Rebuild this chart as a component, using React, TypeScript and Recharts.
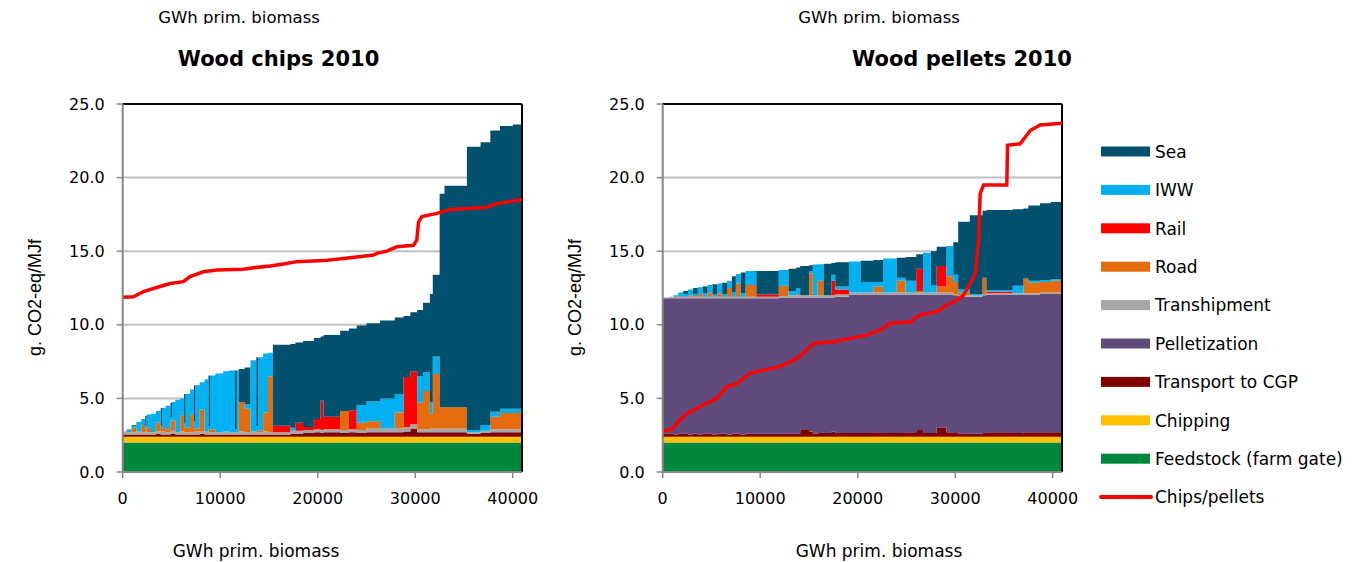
import React from "react";
import { ComposedChart, Area, Line, XAxis, YAxis, CartesianGrid, ReferenceLine } from "recharts";

// ---------- Series definitions (stack order bottom -> top) ----------
const SERIES = [
  { key: "feed", name: "Feedstock (farm gate)", color: "#00873E" },
  { key: "chip", name: "Chipping", color: "#FFC000" },
  { key: "tcgp", name: "Transport to CGP", color: "#800000" },
  { key: "pel", name: "Pelletization", color: "#604A7B" },
  { key: "trans", name: "Transhipment", color: "#A6A6A6" },
  { key: "road", name: "Road", color: "#E46C0A" },
  { key: "rail", name: "Rail", color: "#FF0000" },
  { key: "iww", name: "IWW", color: "#00B0F0" },
  { key: "sea", name: "Sea", color: "#01506E" },
];
const LINE_NAME = "Chips/pellets";
const LINE_COLOR = "#FF0000";

const X_TICKS = [0, 10000, 20000, 30000, 40000];
const Y_TICKS = [0, 5, 10, 15, 20, 25];
const X_MAX = 40950;

// ---------- Wood chips 2010 ----------
const chipsX = [0, 400, 900, 1400, 1900, 2300, 2450, 2900, 3400, 3900, 4050, 4400, 4900, 5050, 5400, 5900, 6300, 6450, 6900, 7300, 7450, 7900, 8400, 8800, 8950, 9500, 10300, 10900, 11500, 11700, 11900, 12500, 13100, 13700, 13900, 14400, 14900,
  15400, 17200, 17700, 18500, 19600, 20300, 20600, 22300, 23200, 24000, 25000, 26400, 27900, 28800, 29500, 30200, 30800, 31500, 31800, 32500, 33000, 35300, 36700, 37700, 38700, 40000, 40950];
const chipsFeed = [2.0, 2.0, 2.0, 2.0, 2.0, 2.0, 2.0, 2.0, 2.0, 2.0, 2.0, 2.0, 2.0, 2.0, 2.0, 2.0, 2.0, 2.0, 2.0, 2.0, 2.0, 2.0, 2.0, 2.0, 2.0, 2.0, 2.0, 2.0, 2.0, 2.0, 2.0, 2.0, 2.0, 2.0, 2.0, 2.0, 2.0,
  2.0, 2.0, 2.0, 2.0, 2.0, 2.0, 2.0, 2.0, 2.0, 2.0, 2.0, 2.0, 2.0, 2.0, 2.0, 2.0, 2.0, 2.0, 2.0, 2.0, 2.0, 2.0, 2.0, 2.0, 2.0, 2.0, 2.0];
const chipsChip = [0.4, 0.4, 0.4, 0.4, 0.4, 0.4, 0.4, 0.4, 0.4, 0.4, 0.4, 0.4, 0.4, 0.4, 0.4, 0.4, 0.4, 0.4, 0.4, 0.4, 0.4, 0.4, 0.4, 0.4, 0.4, 0.4, 0.4, 0.4, 0.4, 0.4, 0.4, 0.4, 0.4, 0.4, 0.4, 0.4, 0.4,
  0.4, 0.4, 0.4, 0.4, 0.4, 0.4, 0.4, 0.4, 0.4, 0.4, 0.4, 0.4, 0.4, 0.4, 0.4, 0.4, 0.4, 0.4, 0.4, 0.4, 0.4, 0.4, 0.4, 0.4, 0.4, 0.4, 0.4];
const chipsTcgp = [0.15, 0.15, 0.15, 0.15, 0.15, 0.15, 0.15, 0.15, 0.2, 0.15, 0.15, 0.15, 0.2, 0.2, 0.15, 0.15, 0.15, 0.15, 0.15, 0.15, 0.15, 0.2, 0.15, 0.15, 0.15, 0.15, 0.15, 0.15, 0.15, 0.15, 0.15, 0.15, 0.15, 0.15, 0.15, 0.15, 0.15,
  0.15, 0.2, 0.2, 0.25, 0.3, 0.25, 0.3, 0.25, 0.3, 0.25, 0.3, 0.3, 0.3, 0.35, 0.55, 0.3, 0.3, 0.3, 0.3, 0.3, 0.3, 0.2, 0.25, 0.3, 0.3, 0.3, 0.3];
const chipsPel = [0, 0, 0, 0, 0, 0, 0, 0, 0, 0, 0, 0, 0, 0, 0, 0, 0, 0, 0, 0, 0, 0, 0, 0, 0, 0, 0, 0, 0, 0, 0, 0, 0, 0, 0, 0, 0,
  0, 0, 0, 0, 0, 0, 0, 0, 0, 0, 0, 0, 0, 0, 0, 0, 0, 0, 0, 0, 0, 0, 0, 0, 0, 0, 0];
const chipsTrans = [0.15, 0.15, 0.15, 0.2, 0.15, 0.2, 0.15, 0.15, 0.15, 0.2, 0.2, 0.15, 0.2, 0.2, 0.15, 0.2, 0.15, 0.15, 0.15, 0.2, 0.2, 0.15, 0.2, 0.15, 0.15, 0.15, 0.2, 0.15, 0.15, 0.15, 0.2, 0.15, 0.2, 0.15, 0.15, 0.2, 0.15,
  0.15, 0.2, 0.2, 0.2, 0.2, 0.2, 0.2, 0.2, 0.2, 0.2, 0.25, 0.25, 0.25, 0.3, 0.3, 0.2, 0.2, 0.25, 0.25, 0.25, 0.25, 0.1, 0.15, 0.2, 0.2, 0.2, 0.2];
const chipsRoad = [0.05, 0, 0.3, 0, 0.5, 0.1, 0.3, 0, 0.6, 0.1, 0.3, 0.2, 0.7, 0.7, 0, 1.1, 0.3, 0.3, 1.2, 0.2, 0.2, 1.5, 0, 0.2, 0.2, 0, 0, 0, 0, 0, 2.0, 1.6, 0, 0.1, 0.1, 1.3, 3.8,
  0, 0, 0, 0, 0, 0, 0, 1.3, 0, 0.5, 0.5, 0, 1.1, 0, 0, 1.8, 2.6, 1.0, 3.7, 1.45, 1.45, 0, 0, 0.85, 1.1, 1.1, 1.1];
const chipsRail = [0, 0, 0, 0, 0, 0, 0, 0, 0, 0, 0, 0, 0, 0, 0, 0, 0, 0, 0, 0, 0, 0, 0, 0, 0, 0, 0, 0, 0, 0, 0, 0, 0, 0, 0, 0, 0,
  0.45, 0, 0.55, 0.2, 0.7, 2.0, 0.85, 0, 1.3, 0, 0, 0, 0, 3.4, 3.6, 0, 0, 0, 0, 0, 0, 0, 0, 0, 0, 0, 0];
const chipsIww = [0, 0.2, 0.15, 0.65, 0.4, 0.3, 0.9, 1.25, 0.8, 0.3, 1.3, 1.6, 0.2, 1.25, 2.2, 1.15, 0.3, 2.3, 1.7, 0.5, 2.95, 1.85, 3.55, 0.2, 3.65, 4.0, 4.1, 4.2, 0.2, 4.2, 0, 0.3, 4.85, 0.3, 5.0, 4.0, 1.6,
  0, 0.2, 0, 0, 0, 0, 0, 0, 0, 1.2, 1.35, 2.05, 1.25, 0, 0, 1.8, 1.3, 0.8, 1.2, 0, 0, 0.15, 0.4, 0.35, 0.3, 0.3, 0.3];
const chipsSea = [0, 0, 0.05, 0, 0, 0.65, 0, 0, 0, 1.2, 0, 0, 1.0, 0, 0, 0, 2.0, 0, 0, 2.45, 0, 0, 0, 3.45, 0, 0, 0, 0, 4.0, 0, 2.25, 2.5, 0, 4.7, 0, 0, 0,
  5.5, 5.7, 5.45, 5.85, 5.5, 4.35, 5.55, 5.45, 5.55, 5.4, 5.3, 5.3, 5.2, 4.15, 4.0, 4.5, 4.7, 7.35, 5.55, 14.5, 15.05, 19.25, 19.2, 19.1, 19.2, 19.3, 19.3];
// red line in the chips panel (pellet chain cost curve)
const chipsLineX = [0, 1090, 2120, 3830, 4860, 6220, 6910, 8280, 9640, 12380, 13410, 15120, 16480, 17850, 20590, 22640, 25720, 26060, 27090, 28110, 29820, 30160, 30340, 30680, 32220, 33580, 37350, 38030, 40950];
const chipsLineY = [11.87, 11.9, 12.25, 12.6, 12.8, 12.93, 13.27, 13.6, 13.72, 13.77, 13.88, 14.0, 14.13, 14.29, 14.36, 14.5, 14.74, 14.85, 15.0, 15.3, 15.4, 15.76, 17.0, 17.35, 17.57, 17.84, 17.98, 18.18, 18.52];

// ---------- Wood pellets 2010 ----------
const pelX = [0, 700, 1100, 1600, 2100, 2600, 3100, 3600, 4100, 4600, 5100, 5600, 6100, 6600, 7100, 7500, 8000, 8500, 9600, 11900, 12900, 13700, 14100, 15000, 15400, 15900, 16500, 17300, 17700, 19100, 20300, 21600, 22600, 24000, 24900, 26000, 26700, 27500, 28100, 29100, 29800, 30300, 31500, 32800, 33200, 35900, 37000, 37500, 38700, 39800, 40950];
const pelFeed = [2.0, 2.0, 2.0, 2.0, 2.0, 2.0, 2.0, 2.0, 2.0, 2.0, 2.0, 2.0, 2.0, 2.0, 2.0, 2.0, 2.0, 2.0, 2.0, 2.0, 2.0, 2.0, 2.0, 2.0, 2.0, 2.0, 2.0, 2.0, 2.0, 2.0, 2.0, 2.0, 2.0, 2.0, 2.0, 2.0, 2.0, 2.0, 2.0, 2.0, 2.0, 2.0, 2.0, 2.0, 2.0, 2.0, 2.0, 2.0, 2.0, 2.0, 2.0];
const pelChip = [0.4, 0.4, 0.4, 0.4, 0.4, 0.4, 0.4, 0.4, 0.4, 0.4, 0.4, 0.4, 0.4, 0.4, 0.4, 0.4, 0.4, 0.4, 0.4, 0.4, 0.4, 0.4, 0.4, 0.4, 0.4, 0.4, 0.4, 0.4, 0.4, 0.4, 0.4, 0.4, 0.4, 0.4, 0.4, 0.4, 0.4, 0.4, 0.4, 0.4, 0.4, 0.4, 0.4, 0.4, 0.4, 0.4, 0.4, 0.4, 0.4, 0.4, 0.4];
const pelTcgp = [0.2, 0.2, 0.15, 0.2, 0.2, 0.15, 0.2, 0.15, 0.2, 0.2, 0.15, 0.2, 0.2, 0.15, 0.2, 0.2, 0.15, 0.2, 0.2, 0.2, 0.2, 0.2, 0.5, 0.35, 0.2, 0.3, 0.25, 0.35, 0.25, 0.25, 0.25, 0.3, 0.25, 0.25, 0.3, 0.45, 0.25, 0.25, 0.6, 0.3, 0.3, 0.2, 0.2, 0.25, 0.3, 0.25, 0.3, 0.3, 0.3, 0.3, 0.3];
const pelPel = [9.2, 9.2, 9.25, 9.2, 9.2, 9.25, 9.2, 9.25, 9.2, 9.2, 9.25, 9.2, 9.2, 9.25, 9.2, 9.2, 9.25, 9.2, 9.2, 9.25, 9.25, 9.25, 8.95, 9.1, 9.25, 9.15, 9.2, 9.1, 9.25, 9.4, 9.4, 9.35, 9.4, 9.4, 9.35, 9.2, 9.4, 9.4, 9.05, 9.35, 9.3, 9.3, 9.3, 9.35, 9.35, 9.4, 9.35, 9.35, 9.4, 9.4, 9.4];
const pelTrans = [0.05, 0.1, 0.1, 0.1, 0.1, 0.1, 0.15, 0.1, 0.1, 0.1, 0.1, 0.1, 0.1, 0.1, 0.1, 0.1, 0.1, 0.1, 0.1, 0.1, 0.15, 0.15, 0.15, 0.15, 0.15, 0.15, 0.15, 0.15, 0.15, 0.15, 0.15, 0.15, 0.15, 0.15, 0.15, 0.15, 0.15, 0.15, 0.15, 0.15, 0.1, 0.1, 0.1, 0.1, 0.1, 0.1, 0.1, 0.1, 0.1, 0.1, 0.1];
const pelRoad = [0, 0, 0, 0.05, 0, 0.1, 0, 0.2, 0, 0.3, 0, 0.25, 0, 0.6, 0, 0.9, 0, 0.8, 0, 0.7, 0, 0.1, 0, 1.5, 0, 1.0, 0, 0, 0, 0, 0, 0.4, 0, 0.8, 0, 0.1, 0, 0, 0.4, 1.1, 0.8, 0.2, 0, 1.1, 0, 0, 1.0, 0.7, 0.7, 0.8, 0.8];
const pelRail = [0, 0, 0, 0, 0, 0, 0, 0, 0, 0, 0, 0, 0, 0, 0, 0, 0, 0, 0.15, 0, 0, 0, 0, 0, 0, 0, 0, 1.0, 0.35, 0, 0, 0, 0, 0, 0, 1.5, 0, 0, 1.4, 0, 0, 0, 0, 0, 0.1, 0, 0, 0, 0, 0, 0];
const pelIww = [0, 0, 0.1, 0.25, 0.2, 0.4, 0.15, 0.45, 0.25, 0.5, 0.15, 0.65, 0.2, 0.5, 0.3, 0.65, 0.25, 0.95, 0, 1.07, 0.3, 0.4, 0, 0.15, 2.1, 1.12, 0, 0.4, 0.2, 2.1, 0.7, 0.3, 2.3, 0.2, 0.8, 0, 2.7, 0.5, 0, 2.05, 0.5, 0.2, 0.1, 0, 0.1, 0.5, 0, 0.15, 0.15, 0.1, 0.1];
const pelSea = [0, 0, 0, 0, 0.2, 0, 0.4, 0, 0.45, 0, 0.7, 0, 0.75, 0, 1.1, 0, 1.4, 0, 1.6, 0, 1.5, 1.4, 2.0, 0.4, 0, 0, 2.15, 0.8, 1.65, 0, 1.45, 1.5, 0, 1.35, 1.6, 1.0, 0, 2.3, 1.3, 0, 2.2, 4.6, 5.35, 4.55, 5.45, 5.2, 4.75, 5.1, 5.2, 5.25, 5.25];
// red line in the pellets panel (chip chain cost curve)
const pelLineX = [0, 1090, 1440, 2120, 2800, 4170, 5540, 6570, 7590, 8960, 10330, 12040, 13410, 14430, 15460, 17510, 19220, 20930, 22300, 23320, 25380, 26400, 28110, 29140, 30160, 30850, 31530, 32050, 32390, 32560, 32900, 35290, 35360, 36660, 37690, 38710, 40950];
const pelLineY = [2.74, 2.97, 3.3, 3.76, 4.1, 4.55, 5.0, 5.8, 6.0, 6.7, 6.93, 7.16, 7.6, 8.06, 8.74, 8.85, 9.08, 9.3, 9.65, 10.1, 10.2, 10.67, 10.9, 11.35, 11.7, 12.0, 12.8, 13.45, 15.76, 18.9, 19.5, 19.5, 22.2, 22.3, 23.2, 23.57, 23.7];

function buildRows(x: number[], cols: Record<string, number[]>) {
  return x.map((xv, i) => {
    const row: Record<string, number> = { x: xv };
    Object.keys(cols).forEach((k) => (row[k] = cols[k][i]));
    return row;
  });
}

const chipsRows = buildRows(chipsX, {
  feed: chipsFeed, chip: chipsChip, tcgp: chipsTcgp, pel: chipsPel, trans: chipsTrans,
  road: chipsRoad, rail: chipsRail, iww: chipsIww, sea: chipsSea,
});
const pelRows = buildRows(pelX, {
  feed: pelFeed, chip: pelChip, tcgp: pelTcgp, pel: pelPel, trans: pelTrans,
  road: pelRoad, rail: pelRail, iww: pelIww, sea: pelSea,
});
const chipsLine = chipsLineX.map((x, i) => ({ x, y: chipsLineY[i] }));
const pelLine = pelLineX.map((x, i) => ({ x, y: pelLineY[i] }));

const TICK_FONT = { fontFamily: "DejaVu Sans", fontSize: 16, fill: "#000" };
const AXIS_GRAY = "#868686";

function Panel({ rows, line, left }: { rows: any[]; line: any[]; left: number }) {
  return (
    <div style={{ position: "absolute", left, top: 0 }}>
      <ComposedChart
        width={560}
        height={562}
        data={rows}
        margin={{ top: 104, right: 38, bottom: 60, left: 62.7 }}
      >
        <CartesianGrid horizontal vertical={false} stroke="#BFBFBF" strokeWidth={2} />
        <XAxis
          dataKey="x"
          type="number"
          domain={[0, X_MAX]}
          allowDataOverflow
          ticks={X_TICKS}
          interval={0}
          height={30}
          tick={TICK_FONT}
          tickSize={6}
          tickMargin={15}
          axisLine={{ stroke: AXIS_GRAY, strokeWidth: 2 }}
          tickLine={{ stroke: AXIS_GRAY, strokeWidth: 1.5 }}
        />
        <YAxis
          type="number"
          domain={[0, 25]}
          allowDataOverflow
          ticks={Y_TICKS}
          interval={0}
          width={60}
          tick={TICK_FONT}
          tickFormatter={(v: number) => v.toFixed(1)}
          tickSize={6}
          tickMargin={12}
          axisLine={{ stroke: AXIS_GRAY, strokeWidth: 2 }}
          tickLine={{ stroke: AXIS_GRAY, strokeWidth: 1.5 }}
        />
        {SERIES.map((s) => (
          <Area
            key={s.key}
            dataKey={s.key}
            name={s.name}
            stackId="a"
            type="stepAfter"
            stroke="none"
            fill={s.color}
            fillOpacity={1}
            dot={false}
            activeDot={false}
            isAnimationActive={false}
          />
        ))}
        <ReferenceLine y={25} stroke="#000" strokeWidth={2} />
        <ReferenceLine x={X_MAX} stroke="#000" strokeWidth={2} />
        <Line
          data={line}
          dataKey="y"
          name={LINE_NAME}
          type="linear"
          stroke={LINE_COLOR}
          strokeWidth={3.5}
          dot={false}
          activeDot={false}
          isAnimationActive={false}
        />
      </ComposedChart>
    </div>
  );
}

const LEGEND_ORDER = ["sea", "iww", "rail", "road", "trans", "pel", "tcgp", "chip", "feed"];

export default function App() {
  const legendTop = 151.5;
  const legendStep = 38.4;
  return (
    <div style={{ position: "absolute", left: 0, top: 0, width: 1359, height: 562, background: "#fff", overflow: "hidden" }}>
      <Panel rows={chipsRows} line={chipsLine} left={0} />
      <Panel rows={pelRows} line={pelLine} left={540} />
      <svg width={1359} height={562} style={{ position: "absolute", left: 0, top: 0, pointerEvents: "none" }}>
        <defs>
          <clipPath id="topcut">
            <rect x={0} y={0} width={1359} height={24} />
          </clipPath>
        </defs>
        <g clipPath="url(#topcut)" fontFamily="DejaVu Sans" fontSize={16.5} fill="#000">
          <text x={239} y={23} textAnchor="middle">GWh prim. biomass</text>
          <text x={879} y={23} textAnchor="middle">GWh prim. biomass</text>
        </g>
        <g fontFamily="DejaVu Sans" fontWeight="bold" fontSize={21} fill="#000">
          <text x={278.5} y={66} textAnchor="middle">Wood chips 2010</text>
          <text x={962} y={66} textAnchor="middle">Wood pellets 2010</text>
        </g>
        <g fontFamily="Liberation Sans" fontSize={18} fill="#000">
          <text x={0} y={0} textAnchor="middle" transform="translate(41 297.5) rotate(-90)">g. CO2-eq/MJf</text>
          <text x={0} y={0} textAnchor="middle" transform="translate(581 297.5) rotate(-90)">g. CO2-eq/MJf</text>
        </g>
        <g fontFamily="DejaVu Sans" fontSize={17} fill="#000">
          <text x={256} y={556.5} textAnchor="middle">GWh prim. biomass</text>
          <text x={879} y={556.5} textAnchor="middle">GWh prim. biomass</text>
        </g>
        <g fontFamily="DejaVu Sans" fontSize={17} fill="#000">
          {LEGEND_ORDER.map((k, i) => {
            const s = SERIES.find((d) => d.key === k)!;
            const cy = legendTop + i * legendStep;
            return (
              <g key={k}>
                <rect x={1101} y={cy - 5} width={49} height={10} fill={s.color} />
                <text x={1155} y={cy + 6.3}>{s.name}</text>
              </g>
            );
          })}
          <line x1={1101} x2={1151} y1={legendTop + 9 * legendStep} y2={legendTop + 9 * legendStep} stroke={LINE_COLOR} strokeWidth={4} strokeLinecap="round" />
          <text x={1155} y={legendTop + 9 * legendStep + 6.3}>{LINE_NAME}</text>
        </g>
      </svg>
    </div>
  );
}
